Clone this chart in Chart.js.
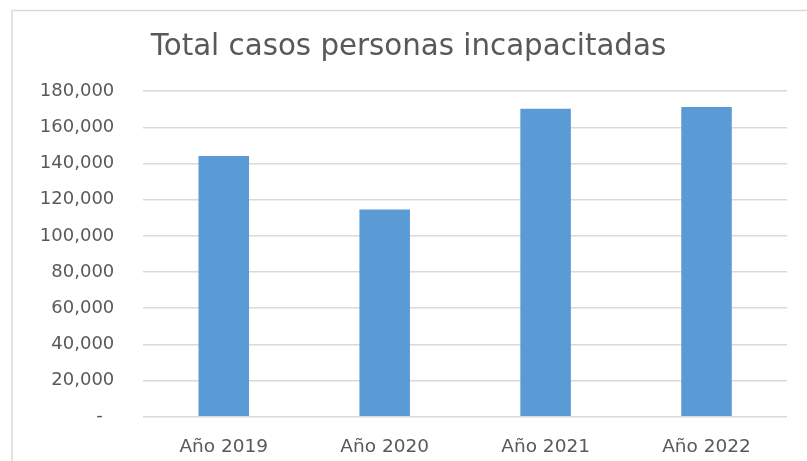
<!DOCTYPE html>
<html>
<head>
<meta charset="utf-8">
<script src="https://cdn.jsdelivr.net/npm/chart.js@4/dist/chart.umd.min.js"></script>
<style>
html,body{margin:0;padding:0;background:#fff;}
#wrap{width:807px;height:461px;position:relative;}
</style>
</head>
<body>
<div id="wrap"><canvas id="c" width="807" height="461"></canvas></div>
<script>
const categories = ['Año 2019', 'Año 2020', 'Año 2021', 'Año 2022'];
const casos = [144100, 114500, 170300, 171200];
const yMax = 180000;
const yStep = 20000;
const chartTitle = 'Total casos personas incapacitadas';

const frame = {
  id: 'frame',
  beforeDraw(chart) {
    const ctx = chart.ctx;
    ctx.save();
    ctx.strokeStyle = '#d9d9d9';
    ctx.lineWidth = 1.5;
    ctx.beginPath();
    ctx.moveTo(12, 461);
    ctx.lineTo(12, 10.5);
    ctx.lineTo(807, 10.5);
    ctx.stroke();
    ctx.restore();
  }
};

const FONT = "'DejaVu Sans', sans-serif";

new Chart(document.getElementById('c'), {
  type: 'bar',
  data: {
    labels: categories,
    datasets: [{
      data: casos,
      backgroundColor: '#5B9BD5',
      borderWidth: 0,
      categoryPercentage: 1,
      barPercentage: 0.314
    }]
  },
  plugins: [frame],
  options: {
    responsive: false,
    animation: false,
    devicePixelRatio: 1,
    layout: { padding: { left: 30, right: 20, top: 0, bottom: 0 } },
    plugins: {
      legend: { display: false },
      tooltip: { enabled: false },
      title: {
        display: true,
        text: chartTitle,
        color: '#595959',
        font: { family: FONT, size: 29.3, weight: 'normal', lineHeight: 1.2 },
        padding: { top: 30, bottom: 26 }
      }
    },
    scales: {
      x: {
        grid: { display: false },
        border: { display: false },
        ticks: {
          color: '#595959',
          font: { family: FONT, size: 18.5 },
          padding: 11
        },
        afterFit(scale) { scale.height = 44.3; }
      },
      y: {
        min: 0,
        max: yMax,
        grid: { color: '#d9d9d9', lineWidth: 1.5, drawTicks: false },
        border: { display: false },
        ticks: {
          stepSize: yStep,
          color: '#595959',
          font: { family: FONT, size: 18 },
          padding: 29,
          callback: (v) => v === 0 ? '-  ' : v.toLocaleString('en-US')
        },
        afterFit(scale) { scale.width = 113.3; }
      }
    }
  }
});
</script>
</body>
</html>
